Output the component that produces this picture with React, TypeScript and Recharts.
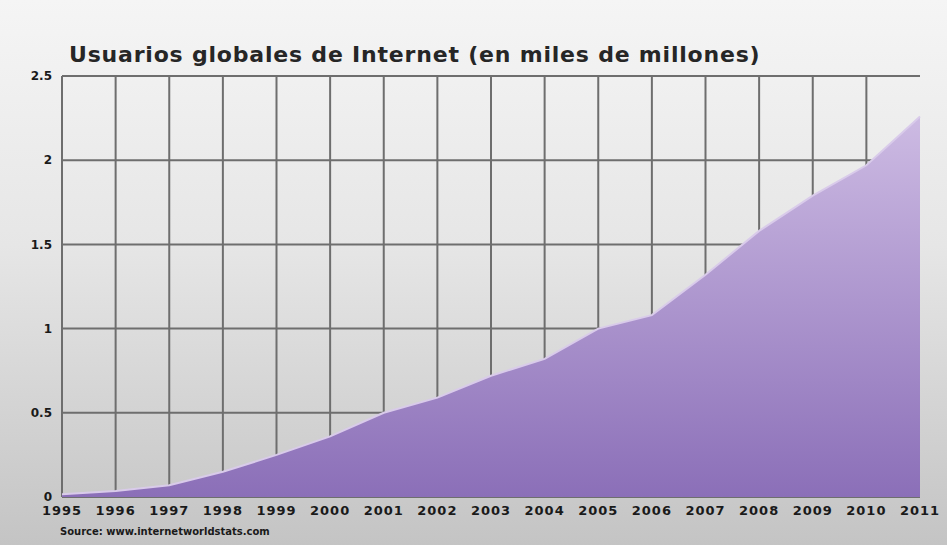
import React from 'react'
import { AreaChart, Area, XAxis, YAxis, CartesianGrid } from 'recharts'

const years = [1995, 1996, 1997, 1998, 1999, 2000, 2001, 2002, 2003, 2004, 2005, 2006, 2007, 2008, 2009, 2010, 2011]
const users = [0.016, 0.036, 0.07, 0.15, 0.25, 0.36, 0.5, 0.59, 0.72, 0.82, 1.0, 1.08, 1.32, 1.58, 1.79, 1.97, 2.26]
const yTicks = [0, 0.5, 1, 1.5, 2, 2.5]
const gridYears = years.slice(0, -1)

const data = years.map((year, i) => ({ year, users: users[i] }))

const FONT = '"DejaVu Sans", Verdana, sans-serif'

export default function App() {
  return (
    <div
      style={{
        position: 'absolute',
        left: 0,
        top: 0,
        width: 947,
        height: 545,
        background: 'linear-gradient(#f5f5f5 0%, #e6e6e6 45%, #c4c4c4 100%)',
        fontFamily: FONT,
      }}
    >
      <div
        style={{
          position: 'absolute',
          left: 69,
          top: 42,
          fontSize: 22,
          fontWeight: 'bold',
          color: '#262626',
          whiteSpace: 'nowrap',
          letterSpacing: 0.8,
        }}
      >
        Usuarios globales de Internet (en miles de millones)
      </div>
      <AreaChart width={947} height={545} data={data} margin={{ top: 76, right: 27, bottom: 0, left: 0 }}>
        <defs>
          <linearGradient id="areaFill" x1="0" y1="0" x2="0" y2="1">
            <stop offset="0%" stopColor="#cdbbe3" />
            <stop offset="100%" stopColor="#8b6fb8" />
          </linearGradient>
        </defs>
        <CartesianGrid stroke="#6e6e6e" strokeWidth={2} verticalValues={gridYears} horizontalValues={yTicks} />
        <XAxis
          dataKey="year"
          type="number"
          domain={[1995, 2011]}
          ticks={years}
          height={48}
          tickLine={false}
          axisLine={false}
          tickMargin={3}
          interval={0}
          tick={{ fill: '#1a1a1a', fontSize: 13, fontWeight: 'bold', fontFamily: FONT, letterSpacing: 1 }}
        />
        <YAxis
          type="number"
          domain={[0, 2.5]}
          ticks={yTicks}
          width={62}
          tickLine={false}
          axisLine={false}
          tickMargin={4}
          tick={{ fill: '#1a1a1a', fontSize: 12, fontWeight: 'bold', fontFamily: FONT }}
        />
        <Area
          type="linear"
          dataKey="users"
          stroke="#d9cbea"
          strokeWidth={2}
          fill="url(#areaFill)"
          fillOpacity={1}
          isAnimationActive={false}
        />
      </AreaChart>
      <div
        style={{
          position: 'absolute',
          left: 60,
          top: 526,
          fontSize: 10,
          fontWeight: 'bold',
          color: '#1a1a1a',
          whiteSpace: 'nowrap',
        }}
      >
        Source: www.internetworldstats.com
      </div>
    </div>
  )
}
